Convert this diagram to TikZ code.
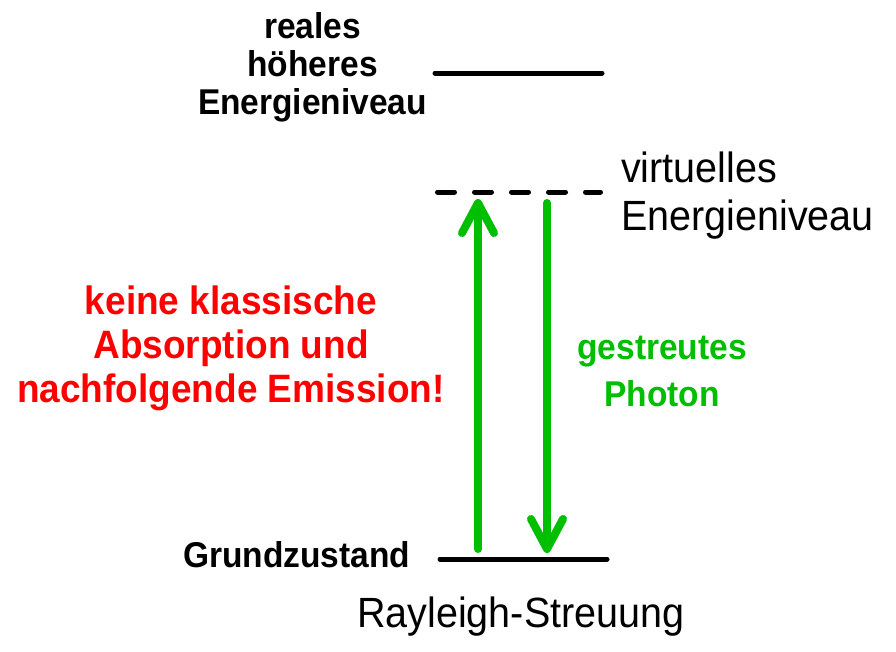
\documentclass[tikz,border=0pt]{standalone}
\usepackage{fontspec}
\setmainfont{Liberation Sans}
\usetikzlibrary{arrows.meta}
\definecolor{photongreen}{RGB}{0,190,0}
\definecolor{hinweisrot}{RGB}{255,0,0}

\begin{document}
\begin{tikzpicture}[
      x=1pt,y=-1pt,
      niveau/.style={line width=5pt, line cap=round},
      virtniveau/.style={niveau, dash pattern=on 17pt off 20pt},
      photon/.style={photongreen, line width=8pt, line cap=round,
          -{Straight Barb[length=30pt,width=32pt,round]}},
      schrift/.style={inner sep=0pt, yscale=1.07, transform shape},
      fett/.style={schrift, font=\fontsize{33.5}{35.5}\selectfont\bfseries},
      normal/.style={schrift, font=\fontsize{39.5}{44}\selectfont},
      hinweis/.style={schrift, hinweisrot, font=\fontsize{37}{40.7}\selectfont\bfseries},
      photontext/.style={schrift, photongreen, font=\fontsize{33.5}{43}\selectfont\bfseries}
      ]
      \fill[white] (0,0) rectangle (896,651);
      \useasboundingbox (0,0) rectangle (896,651);

      % Energieniveaus
      \coordinate (hoch l) at (435,73);   \coordinate (hoch r) at (602,73);
      \coordinate (virt l) at (437.5,192); \coordinate (virt r) at (600.5,192);
      \coordinate (grund l) at (440,559); \coordinate (grund r) at (607,559);
      \draw[niveau]     (hoch l)  -- (hoch r);
      \draw[virtniveau] (virt l)  -- (virt r);
      \draw[niveau]     (grund l) -- (grund r);

      % Photonen
      \coordinate (anreg start) at (478,549);  \coordinate (anreg end) at (478,199);
      \coordinate (streu start) at (547,203);  \coordinate (streu end) at (547,553);
      \draw[photon] (anreg start) -- (anreg end);
      \draw[photon] (streu start) -- (streu end);

      % Beschriftung (base = letzte Zeile)
      \node[fett, align=center, anchor=base]        (reales)   at (312.5,114) {reales\\höheres\\Energieniveau};
      \node[normal, align=left, anchor=base west]   (virtuell) at (621,230)   {virtuelles\\Energieniveau};
      \node[hinweis, align=center, anchor=base]     (klassik)  at (231,402)   {keine klassische\\Absorption und\\nachfolgende Emission!};
      \node[photontext, align=center, anchor=base]  (gestreut) at (662,406)   {gestreutes\\Photon};
      \node[fett, anchor=base west]                 (grund)    at (183,567)   {Grundzustand};
      \node[normal, anchor=base west]               (rayleigh) at (357,627)   {Rayleigh-Streuung};
\end{tikzpicture}
\end{document}
